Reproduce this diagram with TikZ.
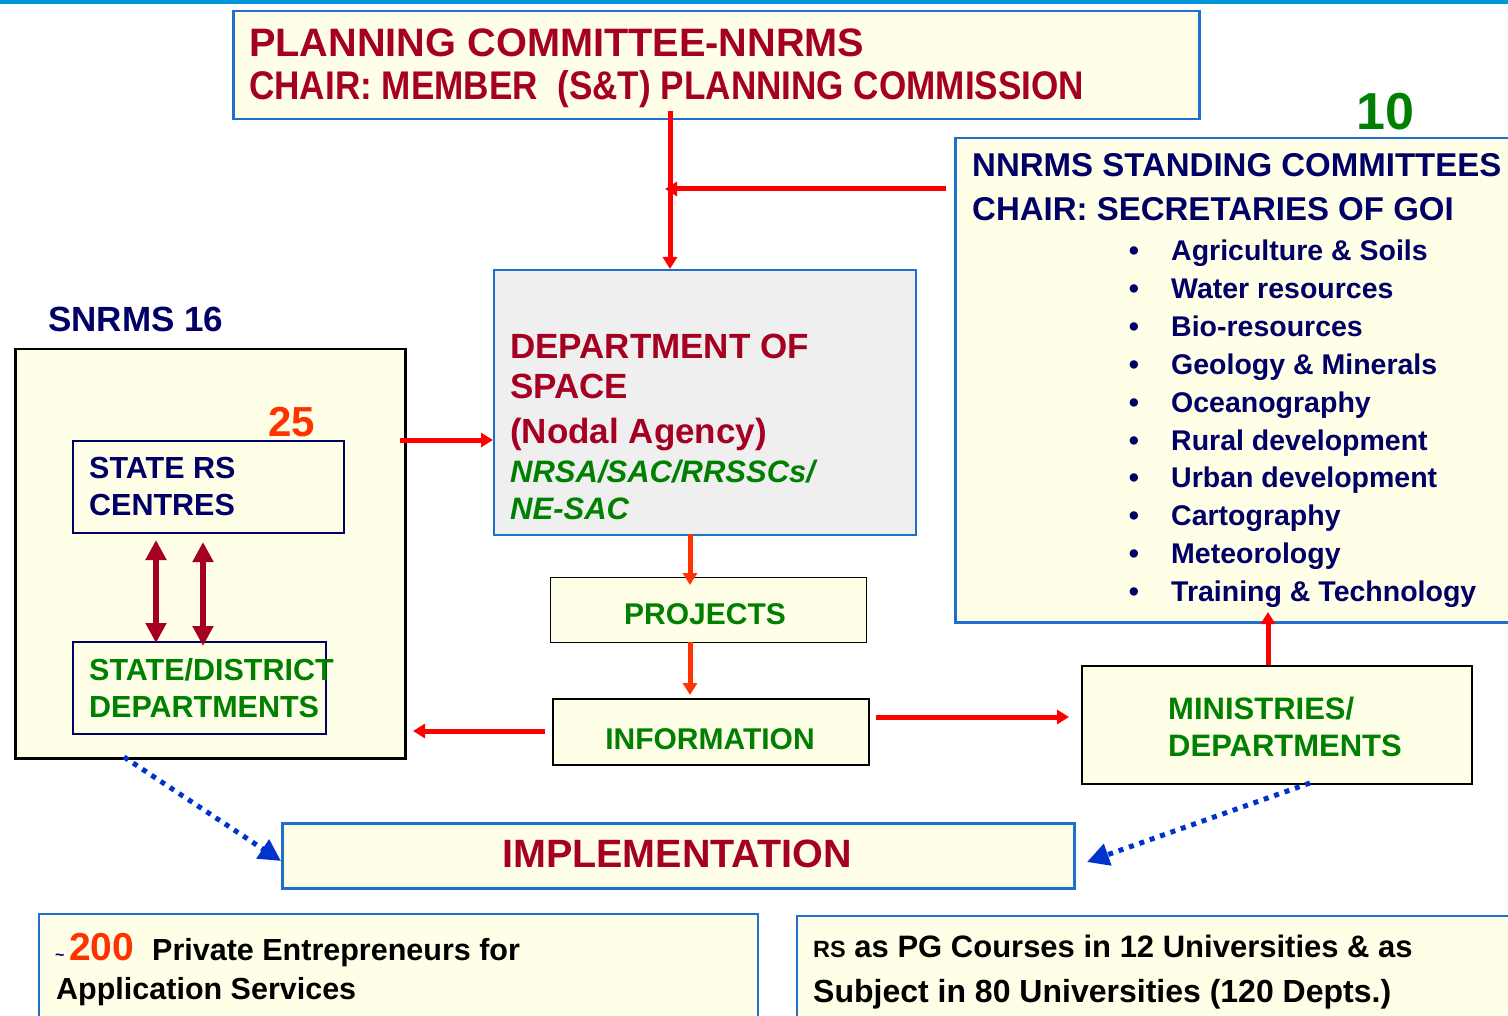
\documentclass[tikz,border=0pt]{standalone}
\usepackage{fontspec}
\usepackage{graphicx}
\setmainfont{Liberation Sans}
\usetikzlibrary{arrows.meta}
\definecolor{dred}{HTML}{A50021}
\definecolor{navy}{HTML}{000066}
\definecolor{dgreen}{HTML}{008000}
\definecolor{ored}{HTML}{FF3300}
\definecolor{boxfill}{HTML}{FFFFE8}
\definecolor{bborder}{HTML}{1F6FCC}
\definecolor{grayfill}{HTML}{EFEFEF}
\definecolor{dotblue}{HTML}{0033CC}
\definecolor{topbar}{HTML}{0096DC}
\newcommand{\fs}[1]{\fontsize{#1}{#1}\selectfont\bfseries}
\tikzset{
  x=1pt, y=-1pt,
  ybox/.style n args={3}{draw=#3, fill=boxfill, anchor=north west, inner sep=0pt,
     minimum width=#1, minimum height=#2},
  bluebox/.style 2 args={ybox={#1}{#2}{bborder}, line width=2.5pt},
  blackbox/.style 2 args={ybox={#1}{#2}{black}, line width=1.6pt},
  txt/.style={anchor=base west, inner sep=0pt},
  ctxt/.style={anchor=base, inner sep=0pt},
  redarrow/.style={draw=red, line width=5pt, -{Triangle[length=12pt,width=14pt]}},
  orarrow/.style={draw=ored, line width=5pt, -{Triangle[length=12pt,width=14pt]}},
  dblarrow/.style={draw=dred, line width=6pt, {Triangle[length=20pt,width=20pt]}-{Triangle[length=20pt,width=20pt]}},
  dotarrow/.style={draw=dotblue, line width=5pt, dash pattern=on 5pt off 6pt, -{Triangle[length=22pt,width=22pt]}},
}
\begin{document}
\begin{tikzpicture}
\useasboundingbox (0,0) rectangle (1508,1016);
\clip (0,0) rectangle (1508,1016);
\fill[topbar] (0,0) rectangle (1508,4);

% boxes
\node[bluebox={966pt}{108pt}] (plan) at (232,10) {};
\node[bluebox={620pt}{484pt}] (stand) at (954,137) {};
\node[ybox={390pt}{409pt}{black}, line width=2.5pt] (snrms) at (14,348) {};
\node[ybox={271pt}{92pt}{navy}, line width=1.6pt] (srs) at (72,440) {};
\node[ybox={253pt}{92pt}{navy}, line width=1.6pt] (sdd) at (72,641) {};
\node[draw=bborder, fill=grayfill, line width=2pt, anchor=north west, inner sep=0pt,
      minimum width=422pt, minimum height=265pt] (dos) at (493,269) {};
\node[blackbox={316pt}{65pt}, line width=1.2pt] (proj) at (550,577) {};
\node[blackbox={316pt}{66pt}] (info) at (552,698) {};
\node[blackbox={390pt}{118pt}] (mini) at (1081,665) {};
\node[bluebox={792pt}{65pt}] (impl) at (281,822) {};
\node[bluebox={719pt}{130pt}, line width=2pt] (priv) at (38,913) {};
\node[bluebox={760pt}{130pt}, line width=2pt] (rs) at (796,915) {};

% planning committee
\node[txt, text=dred] (pl1) at (249,57) {\fs{39.7}PLANNING COMMITTEE-NNRMS};
\node[txt, text=dred] (pl2) at (249,100) {\scalebox{0.878}[1]{\fs{40}CHAIR: MEMBER\ \ (S\&T) PLANNING COMMISSION}};

% standing committees
\node[txt, text=dgreen] (ten) at (1356,130) {\fs{52}10};
\node[txt, text=navy] (st1) at (972,177) {\fs{33}NNRMS STANDING COMMITTEES};
\node[txt, text=navy] (st2) at (972,221) {\fs{33}CHAIR: SECRETARIES OF GOI};
\foreach \t [count=\i from 0] in {Agriculture \& Soils, Water resources, Bio-resources,
   Geology \& Minerals, Oceanography, Rural development, Urban development,
   Cartography, Meteorology, Training \& Technology}{
  \node[ctxt, text=navy] (bul\i) at (1134,{261+37.8*\i}) {\fs{29}\textbullet};
  \node[txt, text=navy] (item\i) at (1171,{261+37.8*\i}) {\fs{28.5}\t};
}

% SNRMS
\node[txt, text=navy] (sn) at (48,332) {\fs{35}SNRMS 16};
\node[txt, text=ored] (tf) at (268,436) {\fs{42}25};
\node[txt, text=navy] (srs1) at (89,478) {\fs{30.5}STATE RS};
\node[txt, text=navy] (srs2) at (89,515) {\fs{30.5}CENTRES};
\node[txt, text=dgreen] (sdd1) at (89,680) {\fs{30.5}STATE/DISTRICT};
\node[txt, text=dgreen] (sdd2) at (89,717) {\fs{30.5}DEPARTMENTS};

% DOS
\node[txt, text=dred] (d1) at (510,359) {\fs{35}DEPARTMENT OF};
\node[txt, text=dred] (d2) at (510,399) {\fs{35}SPACE};
\node[txt, text=dred] (d3) at (510,443) {\fs{35}(Nodal Agency)};
\node[txt, text=dgreen] (d4) at (510,482) {\fs{31}\itshape NRSA/SAC/RRSSCs/};
\node[txt, text=dgreen] (d5) at (510,519) {\fs{31}\itshape NE-SAC};

% projects / information / ministries
\node[ctxt, text=dgreen] (pt) at (705,624) {\fs{30}PROJECTS};
\node[ctxt, text=dgreen] (it) at (710,749) {\fs{30}INFORMATION};
\node[txt, text=dgreen] (m1) at (1168,719) {\fs{31}MINISTRIES/};
\node[txt, text=dgreen] (m2) at (1168,756) {\fs{31}DEPARTMENTS};

% implementation
\node[ctxt, text=dred] (imt) at (677,867) {\fs{39.5}IMPLEMENTATION};

% bottom boxes
\node[txt, text=navy] (tl) at (55,960) {\fs{16}\textasciitilde};
\node[txt, text=ored] (two) at (69,960) {\fs{39}200};
\node[txt] (pe1) at (152,960) {\fs{30.5}Private Entrepreneurs for};
\node[txt] (pe2) at (56,999) {\fs{30.5}Application Services};
\node[txt] (r1) at (813,957) {\fs{23.5}RS\fs{31} as PG Courses in 12 Universities \& as};
\node[txt] (r2) at (813,1002) {\fs{32}Subject in 80 Universities (120 Depts.)};

% connectors
\coordinate (a1) at (670,111);
\draw[redarrow] (a1) -- (a1 |- dos.north);
\coordinate (a2) at (946,189);
\coordinate (j2) at (665,189);
\draw[redarrow] (a2) -- (j2);
\coordinate (a3) at (400,440);
\draw[redarrow] (a3) -- (a3 -| dos.west);
\coordinate (a4) at (690,534);
\coordinate (b4) at (690,585);
\draw[orarrow] (a4) -- (b4);
\coordinate (a5) at (690,642);
\coordinate (b5) at (690,695);
\draw[orarrow] (a5) -- (b5);
\coordinate (a6) at (545,731);
\coordinate (b6) at (413,731);
\draw[redarrow] (a6) -- (b6);
\coordinate (a7) at (876,717);
\coordinate (b7) at (1069,717);
\draw[redarrow] (a7) -- (b7);
\coordinate (a8) at (1268,665);
\coordinate (b8) at (1268,612);
\draw[redarrow] (a8) -- (b8);
\coordinate (c1) at (156,540);
\coordinate (c2) at (156,643);
\draw[dblarrow] (c1) -- (c2);
\coordinate (c3) at (203,542);
\coordinate (c4) at (203,646);
\draw[dblarrow] (c3) -- (c4);
\coordinate (e1) at (124,757);
\coordinate (e2) at (281,861);
\draw[dotarrow] (e1) -- (e2);
\coordinate (e3) at (1310,783);
\coordinate (e4) at (1087,862);
\draw[dotarrow] (e3) -- (e4);
\end{tikzpicture}
\end{document}
